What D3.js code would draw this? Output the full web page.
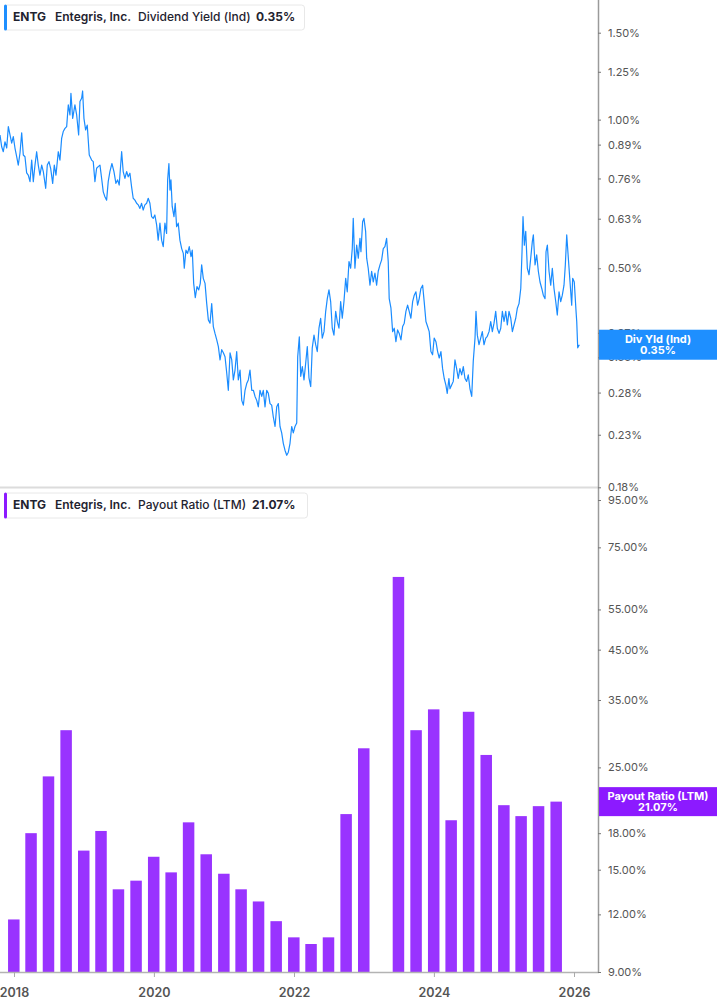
<!DOCTYPE html>
<html>
<head>
<meta charset="utf-8">
<script src="https://cdn.jsdelivr.net/npm/d3@7/dist/d3.min.js"></script>
<style>
  html, body { margin: 0; padding: 0; background: #fff; }
  svg { display: block; font-family: Inter, "Noto Sans", sans-serif; }
</style>
</head>
<body>
<svg id="chart" width="717" height="1005"></svg>
<script>
// ---------------- DATA ----------------
const ticker = "ENTG";
const company = "Entegris, Inc.";
const seriesTopName = "Dividend Yield (Ind)";
const seriesTopTag = "Div Yld (Ind)";
const seriesBottomName = "Payout Ratio (LTM)";

// dividend yield (%) — time as fractional years
const divYears = [
2017.800,2017.824,2017.847,2017.871,2017.896,2017.919,2017.943,2017.967,2017.990,2018.014,
2018.039,2018.061,2018.086,2018.110,2018.133,2018.157,2018.181,2018.204,2018.229,2018.253,
2018.276,2018.300,2018.324,2018.347,2018.371,2018.396,2018.419,2018.453,2018.476,2018.500,
2018.524,2018.553,2018.576,2018.600,2018.633,2018.657,2018.681,2018.704,2018.729,2018.753,
2018.776,2018.800,2018.814,2018.839,2018.871,2018.896,2018.924,2018.943,2018.967,2018.981,
2019.000,2019.024,2019.047,2019.076,2019.110,2019.133,2019.157,2019.181,2019.204,2019.229,
2019.253,2019.276,2019.300,2019.324,2019.347,2019.371,2019.400,2019.429,2019.457,2019.481,
2019.504,2019.539,2019.561,2019.586,2019.610,2019.633,2019.657,2019.681,2019.704,2019.729,
2019.753,2019.776,2019.800,2019.824,2019.847,2019.871,2019.896,2019.919,2019.943,2019.967,
2019.990,2020.014,2020.039,2020.061,2020.086,2020.110,2020.133,2020.157,2020.181,2020.196,
2020.214,2020.229,2020.243,2020.261,2020.286,2020.304,2020.324,2020.347,2020.371,2020.396,
2020.419,2020.433,2020.457,2020.481,2020.504,2020.529,2020.547,2020.567,2020.590,2020.614,
2020.639,2020.661,2020.681,2020.704,2020.729,2020.753,2020.776,2020.800,2020.824,2020.847,
2020.871,2020.896,2020.919,2020.943,2020.967,2020.990,2021.014,2021.039,2021.061,2021.086,
2021.110,2021.133,2021.157,2021.181,2021.204,2021.229,2021.253,2021.276,2021.300,2021.324,
2021.347,2021.371,2021.396,2021.419,2021.443,2021.467,2021.490,2021.514,2021.539,2021.561,
2021.586,2021.610,2021.633,2021.657,2021.681,2021.704,2021.729,2021.753,2021.776,2021.800,
2021.824,2021.847,2021.871,2021.896,2021.919,2021.943,2021.967,2021.990,2022.014,2022.039,
2022.053,2022.076,2022.096,2022.119,2022.143,2022.167,2022.190,2022.214,2022.239,2022.261,
2022.286,2022.310,2022.333,2022.357,2022.381,2022.404,2022.429,2022.453,2022.476,2022.500,
2022.524,2022.547,2022.571,2022.596,2022.619,2022.643,2022.667,2022.690,2022.714,2022.739,
2022.761,2022.786,2022.810,2022.833,2022.847,2022.871,2022.896,2022.919,2022.943,2022.957,
2022.981,2023.000,2023.024,2023.039,2023.061,2023.086,2023.110,2023.133,2023.157,2023.181,
2023.204,2023.229,2023.253,2023.276,2023.300,2023.324,2023.347,2023.361,2023.386,2023.410,
2023.433,2023.457,2023.481,2023.504,2023.529,2023.553,2023.576,2023.600,2023.624,2023.647,
2023.671,2023.696,2023.719,2023.743,2023.767,2023.790,2023.814,2023.839,2023.861,2023.886,
2023.910,2023.933,2023.957,2023.981,2024.004,2024.029,2024.053,2024.076,2024.100,2024.124,
2024.147,2024.171,2024.190,2024.214,2024.229,2024.253,2024.276,2024.300,2024.324,2024.347,
2024.371,2024.396,2024.419,2024.443,2024.467,2024.490,2024.514,2024.539,2024.561,2024.586,
2024.600,2024.619,2024.643,2024.667,2024.690,2024.714,2024.739,2024.761,2024.786,2024.810,
2024.833,2024.857,2024.881,2024.904,2024.929,2024.953,2024.976,2025.000,2025.024,2025.047,
2025.071,2025.096,2025.119,2025.143,2025.167,2025.190,2025.214,2025.239,2025.257,2025.271,
2025.290,2025.310,2025.333,2025.357,2025.381,2025.404,2025.419,2025.443,2025.467,2025.490,
2025.514,2025.539,2025.561,2025.586,2025.600,2025.619,2025.643,2025.667,2025.690,2025.714,
2025.739,2025.761,2025.786,2025.810,2025.833,2025.857,2025.876,2025.896,2025.919,2025.943,
2025.967,2025.981,2026.004,2026.029,2026.039,2026.053,2026.076
];
const divYield = [
0.931,0.881,0.861,0.902,0.876,0.968,0.931,0.896,0.924,0.876,
0.841,0.809,0.856,0.940,0.848,0.841,0.780,0.772,0.749,0.828,
0.749,0.809,0.861,0.809,0.772,0.809,0.785,0.726,0.809,0.822,
0.797,0.743,0.809,0.772,0.861,0.828,0.916,0.946,0.960,0.968,
1.071,1.022,1.131,1.006,1.071,1.022,0.931,1.088,1.105,1.143,
1.006,0.953,0.975,0.848,0.828,0.822,0.749,0.797,0.803,0.809,
0.760,0.714,0.698,0.687,0.749,0.785,0.815,0.785,0.743,0.755,
0.737,0.861,0.785,0.760,0.785,0.766,0.779,0.731,0.693,0.687,
0.677,0.672,0.661,0.677,0.656,0.672,0.677,0.693,0.677,0.636,
0.631,0.641,0.612,0.570,0.617,0.570,0.553,0.617,0.588,0.755,
0.815,0.720,0.755,0.667,0.636,0.677,0.607,0.617,0.570,0.548,
0.536,0.500,0.544,0.536,0.553,0.528,0.544,0.466,0.436,0.459,
0.452,0.466,0.508,0.477,0.466,0.424,0.393,0.387,0.424,0.381,
0.369,0.358,0.347,0.326,0.342,0.337,0.331,0.306,0.283,0.337,
0.326,0.297,0.311,0.339,0.297,0.311,0.270,0.264,0.283,0.292,
0.297,0.311,0.283,0.283,0.275,0.270,0.262,0.283,0.275,0.283,
0.262,0.283,0.279,0.266,0.264,0.250,0.239,0.262,0.266,0.239,
0.232,0.221,0.214,0.209,0.212,0.221,0.239,0.232,0.239,0.243,
0.331,0.363,0.302,0.316,0.297,0.321,0.347,0.300,0.288,0.345,
0.366,0.350,0.339,0.378,0.396,0.361,0.372,0.409,0.434,0.452,
0.428,0.378,0.366,0.409,0.390,0.378,0.428,0.396,0.428,0.477,
0.448,0.516,0.500,0.548,0.631,0.500,0.557,0.524,0.575,0.540,
0.621,0.631,0.594,0.524,0.500,0.462,0.493,0.469,0.489,0.462,
0.493,0.508,0.520,0.548,0.553,0.575,0.516,0.434,0.415,0.372,
0.378,0.355,0.375,0.369,0.358,0.381,0.387,0.409,0.421,0.409,
0.396,0.428,0.441,0.448,0.421,0.434,0.455,0.462,0.428,0.390,
0.381,0.372,0.339,0.334,0.361,0.355,0.339,0.329,0.339,0.313,
0.299,0.290,0.279,0.299,0.285,0.290,0.295,0.326,0.313,0.299,
0.313,0.304,0.316,0.299,0.295,0.304,0.285,0.275,0.324,0.361,
0.409,0.366,0.350,0.361,0.372,0.350,0.361,0.364,0.372,0.390,
0.372,0.387,0.409,0.378,0.369,0.378,0.409,0.390,0.409,0.384,
0.409,0.396,0.372,0.384,0.396,0.415,0.424,0.455,0.540,0.636,
0.557,0.594,0.500,0.485,0.524,0.566,0.584,0.508,0.532,0.493,
0.469,0.455,0.441,0.434,0.540,0.557,0.493,0.462,0.500,0.455,
0.428,0.402,0.448,0.428,0.441,0.462,0.508,0.584,0.524,0.469,
0.421,0.477,0.469,0.409,0.390,0.345,0.350
];
const divYieldLast = 0.35;

// payout ratio (LTM, %) by fiscal quarter end
const payoutQuarters = [
"2017-12-31","2018-03-31","2018-06-30","2018-09-30","2018-12-31","2019-03-31","2019-06-30","2019-09-30",
"2019-12-31","2020-03-31","2020-06-30","2020-09-30","2020-12-31","2021-03-31","2021-06-30","2021-09-30",
"2021-12-31","2022-03-31","2022-06-30","2022-09-30","2022-12-31","2023-03-31","2023-06-30","2023-09-30",
"2023-12-31","2024-03-31","2024-06-30","2024-09-30","2024-12-31","2025-03-31","2025-06-30","2025-09-30"
];
const payoutRatio = [
11.7,18.0,23.9,30.1,16.5,18.2,13.6,14.2,
16.0,14.8,19.0,16.2,14.7,13.6,12.8,11.6,
10.7,10.35,10.7,19.8,27.5,null,64.7,30.1,
33.4,19.2,33.0,26.6,20.7,19.6,20.6,21.07
];
const payoutLast = 21.07;

// axis tick labels
const topTicks = [1.50,1.25,1.00,0.89,0.76,0.63,0.50,0.37,0.33,0.28,0.23,0.18];
const bottomTicks = [95,75,55,45,35,25,18,15,12,9];
const yearTicks = [2018,2020,2022,2024,2026];

// ---------------- LAYOUT ----------------
const W = 717, H = 1005;
const plotRight = 598;
const topPanel = { y0: 0, y1: 487 };
const botPanel = { y0: 490, y1: 972 };
const colLine = "#1a8cff";
const colBar = "#9933ff";
const colTagBar = "#8c1aff";
const axisGrey = "#9a9a9a";
const textGrey = "#555";

function fy(t) {
  const y = Math.floor(t);
  const s = Date.UTC(y, 0, 1), e = Date.UTC(y + 1, 0, 1);
  return new Date(s + (t - y) * (e - s));
}

const svg = d3.select("#chart");

const x = d3.scaleUtc()
  .domain([fy(2017.8), fy(2026.343)])
  .range([0, plotRight]);

const yTop = d3.scaleLog().domain([0.18, 1.5]).range([487.3, 32.7]);
const yBot = d3.scaleLog().domain([9, 95]).range([972, 500]);

// ---------- top panel: line ----------
const lineData = divYears.map((t, i) => ({ d: fy(t), v: divYield[i] }));
const line = d3.line().x(d => x(d.d)).y(d => yTop(d.v));
svg.append("path")
  .datum(lineData)
  .attr("fill", "none")
  .attr("stroke", colLine)
  .attr("stroke-width", 1.2)
  .attr("stroke-linejoin", "round")
  .attr("d", line);

// ---------- bottom panel: bars ----------
const barData = payoutQuarters.map((q, i) => ({ d: new Date(q + "T00:00:00Z"), v: payoutRatio[i] }))
  .filter(d => d.v != null);
const barW = 11.5;
svg.append("g").selectAll("rect")
  .data(barData)
  .join("rect")
  .attr("x", d => x(d.d) - barW / 2)
  .attr("width", barW)
  .attr("y", d => yBot(d.v))
  .attr("height", d => botPanel.y1 - yBot(d.v))
  .attr("fill", colBar);

// ---------- separator & frame lines ----------
svg.append("line")
  .attr("x1", 0).attr("x2", plotRight)
  .attr("y1", 487.5).attr("y2", 487.5)
  .attr("stroke", "#dcdcdc").attr("stroke-width", 2);

svg.append("line")
  .attr("x1", 0).attr("x2", plotRight + 1)
  .attr("y1", botPanel.y1 + 0.5).attr("y2", botPanel.y1 + 0.5)
  .attr("stroke", "#b3b3b3").attr("stroke-width", 1.5);

svg.append("line")
  .attr("x1", plotRight + 0.5).attr("x2", plotRight + 0.5)
  .attr("y1", 0).attr("y2", botPanel.y1 + 1)
  .attr("stroke", axisGrey).attr("stroke-width", 1.5);

// ---------- right axes ----------
function styleAxis(g) {
  g.select(".domain").remove();
  g.selectAll(".tick line").attr("stroke", "#777").attr("stroke-width", 1);
  g.selectAll(".tick text")
    .attr("fill", textGrey)
    .style("font-size", "11px")
    .style("font-family", "Inter, sans-serif");
}

svg.append("g")
  .attr("transform", `translate(${plotRight},0)`)
  .call(d3.axisRight(yTop).tickValues(topTicks)
    .tickFormat(d => d.toFixed(2) + "%").tickSize(3).tickPadding(7))
  .call(styleAxis);

svg.append("g")
  .attr("transform", `translate(${plotRight},0)`)
  .call(d3.axisRight(yBot).tickValues(bottomTicks)
    .tickFormat(d => d.toFixed(2) + "%").tickSize(3).tickPadding(7))
  .call(styleAxis);

// ---------- bottom x axis ----------
const xAxisG = svg.append("g")
  .attr("transform", `translate(0,${botPanel.y1})`)
  .call(d3.axisBottom(x).tickValues(yearTicks.map(yv => new Date(Date.UTC(yv, 0, 1))))
    .tickFormat(d3.utcFormat("%Y")).tickSize(5).tickPadding(11));
xAxisG.select(".domain").remove();
xAxisG.selectAll(".tick line").attr("stroke", "#aaa");
xAxisG.selectAll(".tick text")
  .attr("fill", textGrey)
  .style("font-size", "12.5px")
  .style("font-weight", "600")
  .style("font-family", "Inter, sans-serif");

// ---------- value tags on axis ----------
function tag(yc, color, l1, l2, h) {
  const g = svg.append("g");
  g.append("rect")
    .attr("x", plotRight + 1).attr("y", yc - h / 2)
    .attr("width", W - plotRight - 1).attr("height", h)
    .attr("fill", color);
  const cx = plotRight + 60;
  g.append("text").attr("x", cx).attr("y", yc - 1.5)
    .attr("text-anchor", "middle").attr("fill", "#fff")
    .style("font-size", "11px").style("font-weight", "700").text(l1);
  g.append("text").attr("x", cx).attr("y", yc + 9.5)
    .attr("text-anchor", "middle").attr("fill", "#fff")
    .style("font-size", "11px").style("font-weight", "700").text(l2);
}
tag(yTop(divYieldLast), "#1e8fff", seriesTopTag, divYieldLast.toFixed(2) + "%", 30);
tag(yBot(payoutLast), colTagBar, seriesBottomName, payoutLast.toFixed(2) + "%", 29);

// ---------- legends ----------
function legend(y, w, color, name, valueText, valueX) {
  const g = svg.append("g");
  g.append("rect")
    .attr("x", 4.5).attr("y", y + 0.5).attr("width", w).attr("height", 25)
    .attr("rx", 3).attr("fill", "#fff").attr("stroke", "#e8e8e8");
  g.append("rect")
    .attr("x", 4).attr("y", y).attr("width", 3).attr("height", 26)
    .attr("rx", 1.5).attr("fill", color);
  const by = y + 16.5;
  const t = (xx, s, wt) => g.append("text").attr("x", xx).attr("y", by)
    .attr("fill", "#1f2330").style("font-size", "12px").style("font-weight", wt).text(s);
  t(13, ticker, 700);
  t(55, company, 600);
  t(138, name, 500);
  t(valueX, valueText, 700);
}
legend(4.5, 300, "#1e8fff", seriesTopName, divYieldLast.toFixed(2) + "%", 256);
legend(492.5, 303, colTagBar, seriesBottomName, payoutLast.toFixed(2) + "%", 252);
</script>
</body>
</html>
